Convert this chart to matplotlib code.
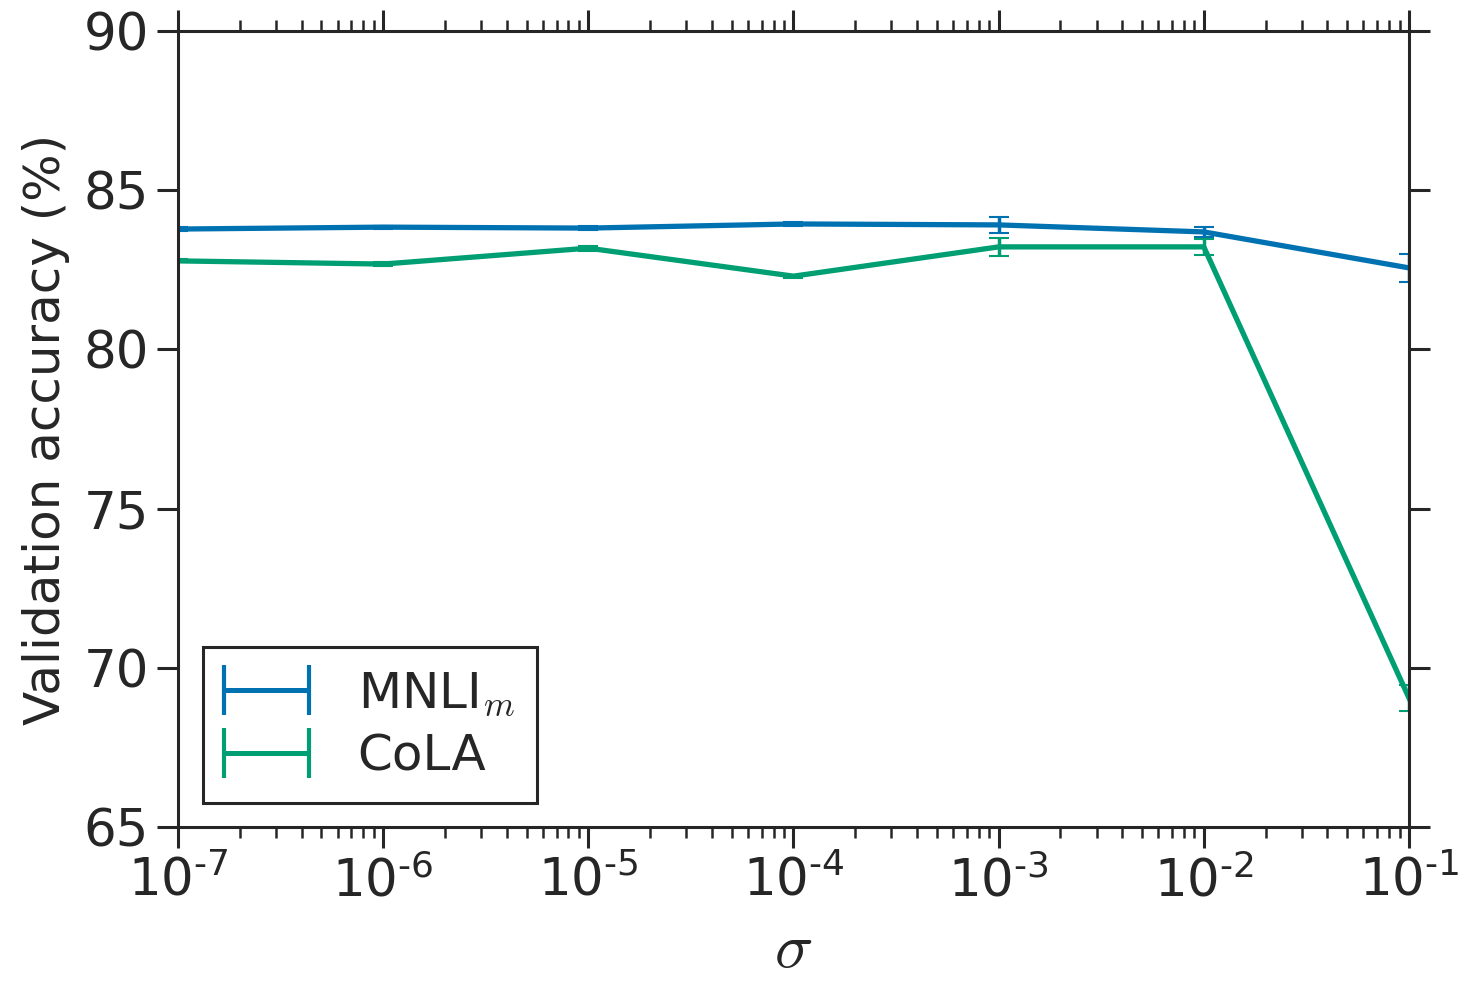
import numpy as np
import matplotlib
matplotlib.use('Agg')
import matplotlib.pyplot as plt
from matplotlib.legend_handler import HandlerErrorbar

# data
sigma = [1e-7, 1e-6, 1e-5, 1e-4, 1e-3, 1e-2, 1e-1]
xlabels = ['-7', '-6', '-5', '-4', '-3', '-2', '-1']
mnli = [83.78, 83.84, 83.81, 83.94, 83.91, 83.69, 82.56]
mnli_err = [0.05, 0.05, 0.05, 0.05, 0.25, 0.15, 0.45]
cola = [82.78, 82.68, 83.18, 82.30, 83.22, 83.22, 69.05]
cola_err = [0.05, 0.05, 0.08, 0.05, 0.28, 0.24, 0.40]

blue = '#0072B2'
green = '#009E73'
dark = '#262626'
plt.rcParams['font.family'] = 'DejaVu Sans'
plt.rcParams['mathtext.fontset'] = 'dejavusans'
plt.rcParams['text.color'] = dark
plt.rcParams['axes.labelcolor'] = dark
plt.rcParams['xtick.color'] = dark
plt.rcParams['ytick.color'] = dark

fig = plt.figure(figsize=(14.6, 9.83), dpi=100)
ax = fig.add_axes([178/1460, 1-827/983, (1409-178)/1460, (827-31)/983])

ax.errorbar(sigma, mnli, yerr=mnli_err, color=blue, lw=3.8, capsize=7,
            capthick=1.5, elinewidth=2.5)
ax.errorbar(sigma, cola, yerr=cola_err, color=green, lw=3.8, capsize=7,
            capthick=1.5, elinewidth=2.5)

# legend proxies, drawn as horizontal error bars
p1 = ax.errorbar([np.nan], [np.nan], xerr=[1], color=blue, lw=3.6,
                 capsize=18, capthick=3, elinewidth=3.6, label=r'MNLI$_m$')
p2 = ax.errorbar([np.nan], [np.nan], xerr=[1], color=green, lw=3.6,
                 capsize=18, capthick=3, elinewidth=3.6, label='CoLA')

ax.set_xscale('log')
ax.set_xlim(1e-7, 1e-1)
ax.set_ylim(65, 90)
ax.set_yticks([65, 70, 75, 80, 85, 90])
ax.set_xticks(sigma)
ax.set_xticklabels([r'$\mathdefault{10^{\text{%s}}}$' % e for e in xlabels])

for s in ax.spines.values():
    s.set_linewidth(2.2)
    s.set_color(dark)
ax.tick_params(which='major', direction='out', length=15, width=2.2,
               labelsize=37, top=True, right=True, pad=6)
ax.tick_params(which='minor', direction='out', length=8, width=1.8,
               top=True, right=True)

xl = ax.set_xlabel(r'$\sigma$', fontsize=46, labelpad=8)
xl.set_math_fontfamily('cm')
ax.set_ylabel('Validation accuracy (%)', fontsize=36, labelpad=10)

leg = ax.legend(handles=[p1, p2], loc='lower left', fontsize=36,
                frameon=True, fancybox=False, framealpha=1,
                handlelength=1.65, borderpad=0.45, handletextpad=1.0,
                labelspacing=0.3, borderaxespad=0,
                bbox_to_anchor=(0.02, 0.03),
                handler_map={type(p1): HandlerErrorbar(xerr_size=0.85)})
leg.get_frame().set_edgecolor(dark)
leg.get_frame().set_linewidth(2.2)
for t in leg.get_texts():
    t.set_math_fontfamily('cm')

fig.savefig('out.png', dpi=100)
